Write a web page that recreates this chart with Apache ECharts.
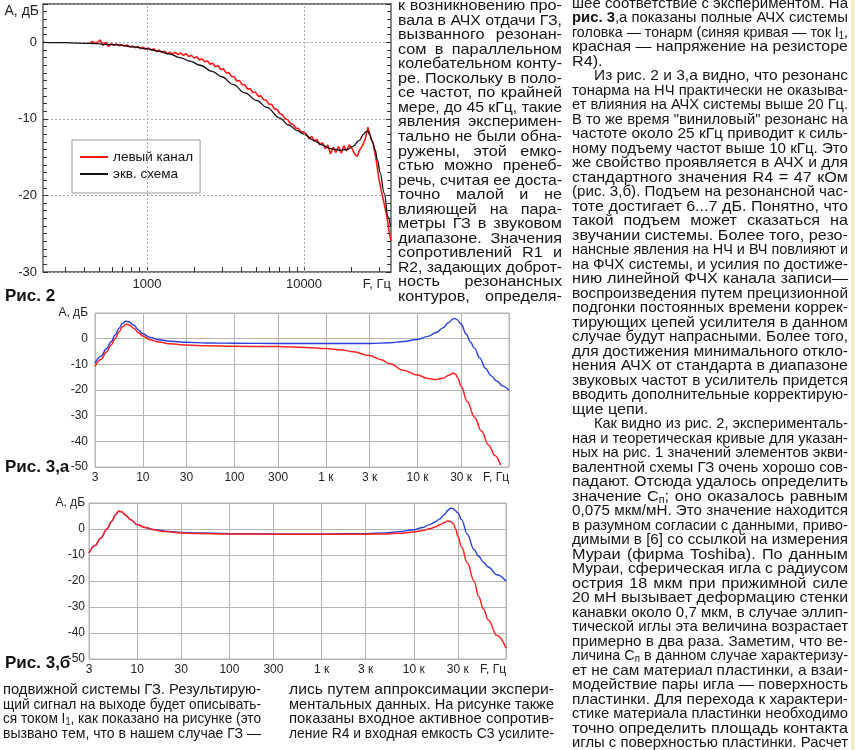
<!DOCTYPE html>
<html><head><meta charset="utf-8">
<script src="https://cdn.jsdelivr.net/npm/echarts@6.0.0/dist/echarts.min.js"></script>
<style>
html,body{margin:0;padding:0;background:#fff;width:855px;height:750px;overflow:hidden;position:relative}
#chart{position:absolute;left:0;top:0;width:855px;height:750px;}
.ln{position:absolute;white-space:nowrap;font-family:"Liberation Sans",Arial,sans-serif;font-size:15px;line-height:16px;color:#141414;transform-origin:0 50%;}
.fig{position:absolute;font-family:"Liberation Sans",Arial,sans-serif;font-weight:bold;font-size:17px;line-height:20px;color:#111;white-space:nowrap}
#strip{position:absolute;left:851px;top:0;width:4px;height:750px;background:#f6efc4}
sub{font-size:10px;vertical-align:-2px;line-height:0}
</style></head>
<body>
<div id="chart"></div>
<div id="strip"></div>
<script>
// ---------- DATA ----------
const fig2Red = [[433,-0.05],[450,0.1],[468,-0.15],[487,0.05],[506,0.3],[526,-0.45],[547,0.0],[569,-0.55],[592,-0.15],[616,-0.4],[640,-0.2],[666,-0.45],[692,-0.3],[720,-0.5],[749,-0.35],[779,-0.6],[810,-0.5],[842,-0.7],[876,-0.55],[911,-0.8],[947,-0.65],[985,-0.9],
[1024,-0.75],[1065,-1.05],[1108,-0.85],[1152,-1.2],[1198,-1.0],[1246,-1.35],[1296,-1.15],[1348,-1.5],[1402,-1.3],[1458,-1.55],
[1516,-1.3],[1577,-1.6],[1640,-1.4],[1705,-1.7],[1774,-1.5],[1844,-1.85],[1918,-1.7],[1995,-2.05],[2075,-1.9],[2158,-2.3],[2244,-2.15],[2334,-2.55],[2427,-2.45],[2524,-2.85],[2625,-2.75],[2730,-3.2],[2839,-3.05],[2953,-3.55],[3071,-3.45],[3194,-4.0],[3321,-3.95],[3454,-4.45],[3592,-4.5],[3736,-5.05],[3885,-5.0],[4041,-5.55],[4202,-5.55],[4370,-6.1],[4545,-6.05],[4727,-6.6],[4916,-6.5],[5113,-7.05],[5317,-7.0],[5530,-7.5],[5751,-7.55],[5981,-8.1],[6220,-8.1],[6469,-8.7],[6728,-8.75],[6997,-9.3],[7277,-9.45],[7568,-9.95],[7871,-10.1],[8185,-10.6],[8513,-10.7],[8853,-11.2],[9208,-11.25],[9576,-11.7],[9959,-11.7],
[10357,-12.0],[10772,-12.6],[11202,-12.3],[11650,-12.9],[12117,-12.7],[12601,-13.4],[13105,-13.1],[13630,-13.9],[14175,-13.4],[14742,-14.6],[15332,-13.7],[15945,-14.4],[16583,-13.6],[17246,-14.5],[17936,-13.5],[18653,-14.2],[19400,-13.4],[20175,-13.8],[20983,-14.6],[21822,-14.9],[22695,-14.0],[23603,-13.5],[24547,-12.6],[25529,-11.1],[26550,-12.4],[27612,-13.3],[28716,-15.2],[29865,-17.6],[31060,-19.4],[32302,-21.0],[33594,-22.6],[34938,-24.9],[35800,-26.0]];
const fig2Eq = [[218,0],[300,-0.05],[433,-0.15],[643,-0.35],[815,-0.6],[1000,-0.85],[1200,-1.2],[1400,-1.55],[1620,-2.0],[1900,-2.5],[2180,-3.0],[2600,-3.8],[3000,-4.5],[3530,-5.5],[4200,-6.6],[5000,-7.6],[5800,-8.5],[7000,-9.9],[8000,-10.8],[9000,-11.5],[10000,-12.0],[11500,-12.8],[13000,-13.4],[14700,-13.9],[16800,-14.1],[18800,-14.0],[20500,-13.6],[22500,-12.8],[24000,-12.0],[24800,-11.7],[25500,-11.6],[26200,-12.1],[27200,-12.9],[28300,-14.0],[29400,-15.4],[30500,-17.0],[32400,-19.7],[34300,-22.8],[35500,-24.0]];
const fig2MinorX = [300,400,500,600,700,800,900,1000,2000,3000,4000,5000,6000,7000,8000,9000,10000,20000,30000];
const fig2LabelX = [1000,10000,35800];
const fig2GridX = [1000,10000];

const fig3aBlue = [[3,-9.5],[3.5,-6.8],[4,-3.9],[4.5,-1.2],[5,1.5],[5.5,4.1],[6,6.0],[6.5,6.8],[7,6.6],[8,5.2],[9,3.3],[10,1.9],[12,0.5],[15,-0.4],[20,-1.0],[30,-1.4],[50,-1.7],[100,-1.8],[300,-1.9],[1000,-1.9],[3000,-1.9],[5000,-1.6],[7000,-1.1],[10000,-0.3],[13000,0.9],[16000,2.4],[19000,4.2],[22000,6.3],[24500,7.7],[25500,7.9],[27000,7.4],[30000,5.7],[34000,1.8],[38000,-1.3],[42000,-3.8],[48000,-7.5],[55000,-11.5],[64000,-14.5],[74000,-16.6],[86000,-18.5],[100000,-20.2]];
const fig3aRed = [[3,-10.8],[3.5,-8.0],[4,-5.2],[4.5,-2.5],[5,0.2],[5.5,2.7],[6,4.6],[6.5,5.6],[7,5.4],[8,4.0],[9,2.3],[10,1.0],[12,-0.4],[15,-1.3],[20,-2.0],[30,-2.5],[50,-2.8],[100,-2.95],[300,-3.1],[600,-3.4],[1000,-3.8],[1500,-4.4],[2000,-5.1],[3000,-6.6],[4000,-8.2],[5000,-9.8],[7000,-12.3],[10000,-14.2],[13000,-15.5],[16000,-15.9],[19000,-15.4],[22000,-14.3],[24500,-13.4],[26000,-13.8],[27500,-15.3],[30000,-18.5],[35000,-24.5],[42000,-30.6],[50000,-36],[60000,-41.5],[70000,-45.5],[81000,-49.3]];
const fig3bBlue = [[3,-9.2],[3.5,-6.3],[4,-3.6],[4.7,0],[5.3,3.0],[5.8,5.4],[6.3,6.8],[6.8,6.6],[7.5,5.3],[8.5,3.6],[10,1.7],[12.2,0.6],[15,-0.2],[20,-0.8],[30,-1.3],[45,-1.5],[100,-1.8],[300,-1.9],[1000,-1.9],[3000,-1.8],[5000,-1.5],[7000,-1.0],[10000,-0.3],[12500,0.6],[15000,1.7],[17000,2.7],[19000,3.8],[21500,5.6],[23500,7.2],[25000,8.0],[26500,7.9],[28000,7.2],[30000,6.2],[33000,3.6],[38000,-2.0],[45000,-7.9],[50500,-10.5],[57000,-12.8],[64000,-14.6],[80000,-17.6],[100000,-20.1]];
const fig3bRed = [[3,-9.2],[3.5,-6.3],[4,-3.6],[4.7,0],[5.3,3.0],[5.8,5.4],[6.3,6.8],[6.8,6.6],[7.5,5.3],[8.5,3.6],[10,1.7],[12.2,0.6],[15,-0.3],[20,-1.0],[30,-1.5],[45,-1.7],[100,-1.9],[300,-2.0],[1000,-2.0],[3000,-2.0],[5000,-1.9],[7000,-1.6],[10000,-1.2],[12500,-0.6],[15000,0.1],[17000,0.8],[19000,1.5],[21500,2.5],[23300,3.1],[25000,2.9],[26800,2.0],[28500,0.0],[30000,-2.8],[33000,-6.9],[38000,-13.0],[45000,-20.0],[50500,-26.0],[57000,-30.8],[64000,-34.9],[80000,-41.0],[100000,-45.8]];
const fig3X = [3,10,30,100,300,1000,3000,10000,30000,100000];
const fig3XLabels = ['3','10','30','100','300','1 к','3 к','10 к','30 к','F, Гц'];

// ---------- TEXT ----------
const colA = ['к возникновению про-','вала в АЧХ отдачи ГЗ,','вызванного резонан-','сом в параллельном','колебательном конту-','ре. Поскольку в поло-','се частот, по крайней','мере, до 45 кГц, такие','явления эксперимен-','тально не были обна-','ружены, этой емко-','стью можно пренеб-','речь, считая ее доста-','точно малой и не','влияющей на пара-','метры ГЗ в звуковом','диапазоне. Значения','сопротивлений R1 и','R2, задающих доброт-','ность резонансных','контуров, определя-'];
const colB = ['шее соответствие с экспериментом. На','<b>рис. 3</b>,а показаны полные АЧХ системы','головка — тонарм (синяя кривая — ток I<sub>1</sub>,','красная — напряжение на резисторе','|R4).',
'>Из рис. 2 и 3,а видно, что резонанс','тонарма на НЧ практически не оказыва-','ет влияния на АЧХ системы выше 20 Гц.','В то же время "виниловый" резонанс на','частоте около 25 кГц приводит к силь-','ному подъему частот выше 10 кГц. Это','же свойство проявляется в АЧХ и для','стандартного значения R4 = 47 кОм','(рис. 3,б). Подъем на резонансной час-','тоте достигает 6...7 дБ. Понятно, что','такой подъем может сказаться на','звучании системы. Более того, резо-','нансные явления на НЧ и ВЧ повлияют и','на ФЧХ системы, и усилия по достиже-','нию линейной ФЧХ канала записи—','воспроизведения путем прецизионной','подгонки постоянных времени коррек-','тирующих цепей усилителя в данном','случае будут напрасными. Более того,','для достижения минимального откло-','нения АЧХ от стандарта в диапазоне','звуковых частот в усилитель придется','вводить дополнительные корректирую-','|щие цепи.',
'>Как видно из рис. 2, эксперименталь-','ная и теоретическая кривые для указан-','ных на рис. 1 значений элементов экви-','валентной схемы ГЗ очень хорошо сов-','падают. Отсюда удалось определить','значение C<sub>п</sub>; оно оказалось равным','0,075 мкм/мН. Это значение находится','в разумном согласии с данными, приво-','димыми в [6] со ссылкой на измерения','Мураи (фирма Toshiba). По данным','Мураи, сферическая игла с радиусом','острия 18 мкм при прижимной силе','20 мН вызывает деформацию стенки','канавки около 0,7 мкм, в случае эллип-','тической иглы эта величина возрастает','примерно в два раза. Заметим, что ве-','личина C<sub>п</sub> в данном случае характеризу-','ет не сам материал пластинки, а взаи-','модействие пары игла — поверхность','пластинки. Для перехода к характери-','стике материала пластинки необходимо','точно определить площадь контакта','иглы с поверхностью пластинки. Расчет'];
const colC = ['подвижной системы ГЗ. Результирую-','щий сигнал на выходе будет описывать-','ся током I<sub>1</sub>, как показано на рисунке (это','вызвано тем, что в нашем случае ГЗ —'];
const colD = ['лись путем аппроксимации экспери-','ментальных данных. На рисунке также','показаны входное активное сопротив-','ление R4 и входная емкость С3 усилите-'];

function place(lines, x, y0, dy, w){
  lines.forEach((raw,i)=>{
    let t = raw, just = true, ind = 0;
    if (t[0]==='|'){ t=t.slice(1); just=false; }
    if (t[0]==='>'){ t=t.slice(1); ind=22; }
    const d=document.createElement('div');
    d.className='ln'; d.innerHTML=t;
    d.style.left=(x+ind)+'px'; d.style.top=(y0+i*dy-8)+'px';
    document.body.appendChild(d);
    const W=w-ind, nat=d.getBoundingClientRect().width;
    let s = W/nat;
    if (!just) s = Math.min(1.08, s);
    else if (s>1.08) s=1.08;
    d.style.transform='scaleX('+s.toFixed(4)+')';
    if (just && s<W/nat){
      const n=(d.textContent.match(/ /g)||[]).length;
      if(n>0){ d.style.wordSpacing=((W/s-nat)/n).toFixed(2)+'px'; }
    }
  });
}
place(colA, 398, 5, 14.55, 164);
place(colB, 572, 3, 14.49, 276);
place(colC, 3, 689, 14.5, 258);
place(colD, 289, 689, 14.5, 265);
[['Рис. 2',5,286],['Рис. 3,а',5,457],['Рис. 3,б',5,653]].forEach(f=>{
  const d=document.createElement('div'); d.className='fig'; d.textContent=f[0];
  d.style.left=f[1]+'px'; d.style.top=f[2]+'px'; document.body.appendChild(d);
});

// ---------- CHART ----------
const chart = echarts.init(document.getElementById('chart'));
const FF = 'Liberation Sans, Arial, sans-serif';
const GRID = '#b5b5b5';
function fig3X_axis(g, len){
  return {type:'log', gridIndex:g, min:3, max:100000,
    axisLine:{show:false, onZero:false},
    axisTick:{show:true, inside:true, length:len, customValues:fig3X, lineStyle:{color:GRID, width:1}},
    axisLabel:{customValues:fig3X, margin:5, fontSize:12, color:'#222', fontFamily:FF, alignMaxLabel:'right',
      formatter:v=>{const i=fig3X.findIndex(x=>Math.abs(x-v)/x<1e-6); return i>=0?fig3XLabels[i]:'';}},
    splitLine:{show:false}};
}
function fig3Y_axis(g, margin){
  return {type:'value', gridIndex:g, min:-50, max:10, interval:10,
    axisLine:{show:false, onZero:false}, axisTick:{show:false},
    axisLabel:{margin:margin, fontSize:12, color:'#222', fontFamily:FF, formatter:v=>v===10?'А, дБ':String(v)},
    splitLine:{show:true, lineStyle:{color:GRID, type:'solid', width:1}}};
}
const option = {
  animation:false,
  grid:[
    {left:43, top:4, width:348, height:268, show:true, borderColor:'#4a4a4a', borderWidth:1.3, backgroundColor:'#fff'},
    {left:95, top:313, width:414, height:154, show:true, borderColor:GRID, borderWidth:1, backgroundColor:'#fff'},
    {left:89, top:503, width:417, height:156, show:true, borderColor:GRID, borderWidth:1, backgroundColor:'#fff'}
  ],
  legend:{show:true, data:['левый канал','экв. схема'], orient:'vertical', left:72, top:140,
    backgroundColor:'#fff', borderColor:'#9a9a9a', borderWidth:1, padding:[10,7,12,8],
    icon:'rect', itemWidth:28, itemHeight:2, itemGap:3, textStyle:{fontSize:13.5, color:'#111', fontFamily:FF}},
  xAxis:[
    {type:'log', gridIndex:0, min:218, max:35800,
      axisLine:{show:false, onZero:false},
      axisTick:{show:true, inside:true, length:5, customValues:fig2MinorX, lineStyle:{color:'#333'}},
      axisLabel:{customValues:fig2LabelX, margin:6, fontSize:13, color:'#222', fontFamily:FF, alignMaxLabel:'right',
        formatter:v=>{const r=Math.round(v); return r===35800?'F, Гц':String(r);}},
      splitLine:{show:false}},
    fig3X_axis(1,154),
    fig3X_axis(2,156)
  ],
  yAxis:[
    {type:'value', gridIndex:0, min:-30, max:5, interval:10,
      name:'A, дБ', nameLocation:'end', nameGap:-7,
      nameTextStyle:{align:'right', verticalAlign:'middle', padding:[0,4,0,0], fontSize:14, color:'#222', fontFamily:FF},
      axisLine:{show:false, onZero:false},
      axisTick:{show:true, inside:true, length:5, lineStyle:{color:'#333'}},
      minorTick:{show:true, splitNumber:10, length:4, lineStyle:{color:'#333'}},
      axisLabel:{margin:6, fontSize:13, color:'#222', fontFamily:FF, formatter:v=>v===5?'':String(v)},
      splitLine:{show:true, lineStyle:{color:'#a8a8a8', type:[2,2]}}},
    {type:'value', gridIndex:0, position:'right', min:-30, max:5, interval:10,
      axisLine:{show:false, onZero:false},
      axisTick:{show:true, inside:true, length:5, lineStyle:{color:'#333'}},
      minorTick:{show:true, splitNumber:10, length:4, lineStyle:{color:'#333'}},
      axisLabel:{show:true, formatter:()=>''}, splitLine:{show:false}},
    fig3Y_axis(1,7),
    fig3Y_axis(2,4)
  ],
  series:[
    {name:'левый канал', type:'line', xAxisIndex:0, yAxisIndex:0, data:fig2Red, symbol:'none',
      lineStyle:{color:'#ff1a1a', width:1.6}, itemStyle:{color:'#ff1a1a'}},
    {name:'экв. схема', type:'line', xAxisIndex:0, yAxisIndex:0, data:fig2Eq, symbol:'none', smooth:0.4, smoothMonotone:'x',
      lineStyle:{color:'#111', width:1.3}, itemStyle:{color:'#111'},
      markLine:{silent:true, symbol:'none', label:{show:false},
        lineStyle:{color:'#a8a8a8', type:[2,2], width:1}, data:fig2GridX.map(v=>({xAxis:v}))}},
    {name:'I1 (а)', type:'line', xAxisIndex:1, yAxisIndex:2, data:fig3aBlue, symbol:'none', smooth:0.4, smoothMonotone:'x',
      lineStyle:{color:'#2b3fd6', width:1.4}},
    {name:'R4 (а)', type:'line', xAxisIndex:1, yAxisIndex:2, data:fig3aRed, symbol:'none', smooth:0.4, smoothMonotone:'x',
      lineStyle:{color:'#ff2222', width:1.5}},
    {name:'I1 (б)', type:'line', xAxisIndex:2, yAxisIndex:3, data:fig3bBlue, symbol:'none', smooth:0.4, smoothMonotone:'x',
      lineStyle:{color:'#2b3fd6', width:1.4}},
    {name:'R4 (б)', type:'line', xAxisIndex:2, yAxisIndex:3, data:fig3bRed, symbol:'none', smooth:0.4, smoothMonotone:'x',
      lineStyle:{color:'#ff2222', width:1.5}}
  ]
};
chart.setOption(option);
</script>
</body></html>
